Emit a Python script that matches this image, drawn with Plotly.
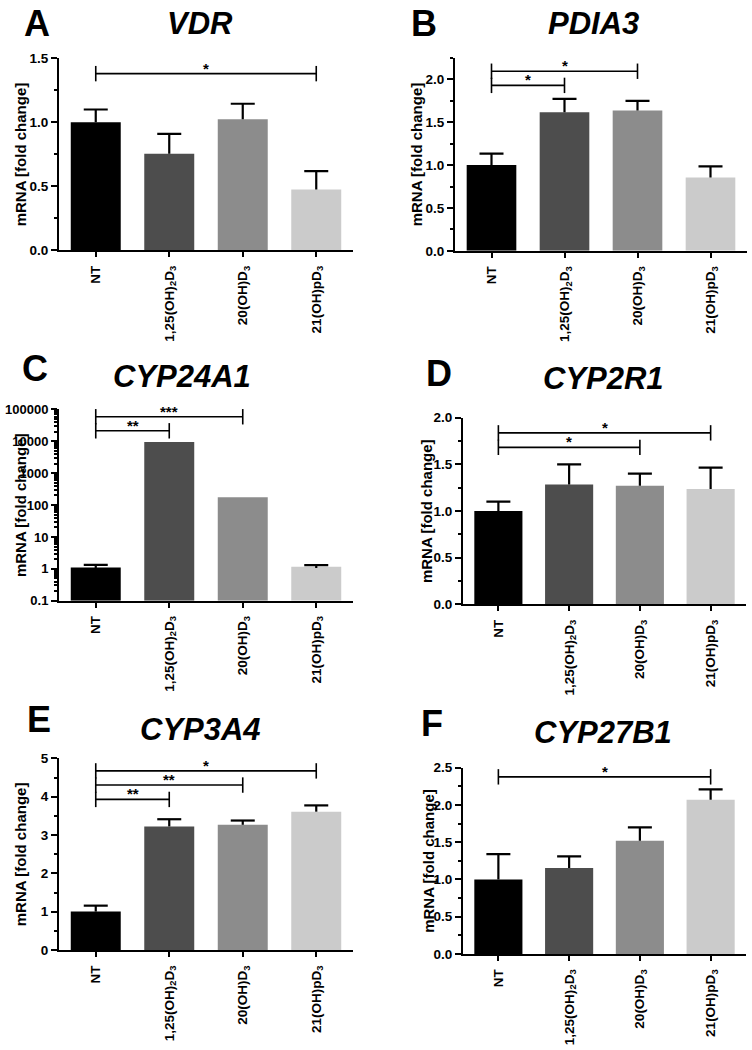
import math
import plotly.graph_objects as go

W, H = 752, 1050

categories = ["NT", "1,25(OH)<sub>2</sub>D<sub>3</sub>", "20(OH)D<sub>3</sub>", "21(OH)pD<sub>3</sub>"]
bar_colors = ["#000000", "#4d4d4d", "#8c8c8c", "#cbcbcb"]

genes = ["VDR", "PDIA3", "CYP24A1", "CYP2R1", "CYP3A4", "CYP27B1"]
letters = ["A", "B", "C", "D", "E", "F"]

vdr_mean = [1.00, 0.755, 1.025, 0.475]
vdr_sem = [0.10, 0.155, 0.12, 0.145]
pdia3_mean = [1.00, 1.615, 1.638, 0.854]
pdia3_sem = [0.134, 0.157, 0.111, 0.130]
cyp24a1_mean = [1.0, 9500, 176, 1.07]
cyp24a1_sem = [0.33, None, None, 0.23]
cyp2r1_mean = [1.0, 1.285, 1.271, 1.236]
cyp2r1_sem = [0.102, 0.215, 0.130, 0.229]
cyp3a4_mean = [1.003, 3.225, 3.268, 3.61]
cyp3a4_sem = [0.155, 0.188, 0.111, 0.164]
cyp27b1_mean = [1.0, 1.155, 1.521, 2.068]
cyp27b1_sem = [0.339, 0.155, 0.179, 0.141]

# significance brackets: (from index, to index, height, label)
vdr_sig = [(0, 3, 1.38, "*")]
pdia3_sig = [(0, 1, 1.93, "*"), (0, 2, 2.095, "*")]
cyp24a1_sig = [(0, 1, 21400, "**"), (0, 2, 59000, "***")]
cyp2r1_sig = [(0, 2, 1.683, "*"), (0, 3, 1.838, "*")]
cyp3a4_sig = [(0, 1, 3.93, "**"), (0, 2, 4.305, "**"), (0, 3, 4.674, "*")]
cyp27b1_sig = [(0, 3, 2.377, "*")]

means = [vdr_mean, pdia3_mean, cyp24a1_mean, cyp2r1_mean, cyp3a4_mean, cyp27b1_mean]
sems = [vdr_sem, pdia3_sem, cyp24a1_sem, cyp2r1_sem, cyp3a4_sem, cyp27b1_sem]
sigs = [vdr_sig, pdia3_sig, cyp24a1_sig, cyp2r1_sig, cyp3a4_sig, cyp27b1_sig]

# y axis settings per panel
y_ranges = [[0, 1.5], [0, 2.25], [-1, 5], [0, 2], [0, 5], [0, 2.5]]
y_dticks = [0.5, 0.5, None, 0.5, 1, 0.5]
y_minor = [0.25, 0.25, "D1", 0.25, 0.5, 0.25]
y_formats = [".1f", ".1f", None, ".1f", "d", ".1f"]
log_ticks = [0.1, 1, 10, 100, 1000, 10000, 100000]
log_ticktext = ["<b>0.1</b>", "<b>1</b>", "<b>10</b>", "<b>100</b>", "<b>1000</b>", "<b>10000</b>", "<b>100000</b>"]

# panel layout in pixels: (left, right, top, bottom)
boxes = [(59, 353, 52, 247), (455, 747, 51.7, 247.3),
         (59, 353, 408.3, 602.3), (463, 746, 416.7, 606),
         (59, 353, 762.3, 956.7), (463, 746, 771.7, 960.7)]
title_pos = [(200, 17), (593, 17), (182, 375), (603, 377), (200, 733), (603, 736)]
letter_pos = [(22, 17), (409, 17), (20, 367), (424, 372), (25, 723), (419, 727)]
ytitle_x = [20, 416, 20, 426, 20, 429]

FONT = "Liberation Sans, Arial, sans-serif"
fig = go.Figure()
layout = dict(width=W, height=H, margin=dict(l=0, r=0, t=0, b=0),
              plot_bgcolor="white", paper_bgcolor="white", showlegend=False,
              font=dict(family=FONT, color="black"))
annotations = []

x_idx = list(range(len(categories)))
for p in range(6):
    n = p + 1
    xa = "x" if n == 1 else f"x{n}"
    ya = "y" if n == 1 else f"y{n}"
    L, R, T, B = boxes[p]
    is_log = p == 2
    m = means[p]
    s = sems[p]

    fig.add_trace(go.Bar(x=x_idx, y=m, width=0.68, marker=dict(color=bar_colors, line=dict(width=0)),
                         xaxis=xa, yaxis=ya, base=(0.1 if is_log else None)))

    # error bars (upper only), built from data
    px_per_unit = (R - L) / 4.0
    cap = 12.0 / px_per_unit
    ex, ey = [], []
    for i, (v, e) in enumerate(zip(m, s)):
        if e is None:
            continue
        ex += [i, i, None, i - cap, i + cap, None]
        ey += [v, v + e, None, v + e, v + e, None]
    fig.add_trace(go.Scatter(x=ex, y=ey, mode="lines", line=dict(color="black", width=2.2),
                             xaxis=xa, yaxis=ya, hoverinfo="skip"))

    # significance brackets
    bx, by, tx, ty = [], [], [], []
    for (a, b, h, lab) in sigs[p]:
        bx += [a, b, None]
        by += [h, h, None]
        tx += [a, b]
        ty += [h, h]
        annotations.append(dict(x=(a + b) / 2, y=(math.log10(h) if is_log else h),
                                xref=xa, yref=ya, text=f"<b>{lab}</b>", showarrow=False,
                                xanchor="center", yanchor="bottom", yshift=-5,
                                font=dict(size=15, family=FONT, color="black")))
    fig.add_trace(go.Scatter(x=bx, y=by, mode="lines", line=dict(color="black", width=1.6),
                             xaxis=xa, yaxis=ya, hoverinfo="skip", cliponaxis=False))
    fig.add_trace(go.Scatter(x=tx, y=ty, mode="markers",
                             marker=dict(symbol="line-ns-open", size=11, color="black",
                                         line=dict(color="black", width=1.6)),
                             xaxis=xa, yaxis=ya, hoverinfo="skip", cliponaxis=False))

    xdom = [L / W, R / W]
    ydom = [1 - B / H, 1 - T / H]
    xkey = "xaxis" if n == 1 else f"xaxis{n}"
    ykey = "yaxis" if n == 1 else f"yaxis{n}"
    layout[xkey] = dict(domain=xdom, anchor=ya, range=[-0.5, 3.5], tickmode="array",
                        tickvals=x_idx, ticktext=[f"<b>{c}</b>" for c in categories], tickangle=-90,
                        ticks="outside", ticklen=5, tickwidth=2, tickcolor="black",
                        showline=True, linewidth=2, linecolor="black",
                        showgrid=False, zeroline=False, ticklabelstandoff=3,
                        tickfont=dict(size=13.5, family=FONT, color="black"))
    yax = dict(domain=ydom, anchor=xa, range=y_ranges[p],
               ticks="outside", ticklen=6, tickwidth=2, tickcolor="black",
               showline=True, linewidth=2, linecolor="black",
               showgrid=False, zeroline=False,
               tickfont=dict(size=13.5, family=FONT, color="black"),
               minor=dict(ticks="outside", ticklen=3, tickwidth=1.5, tickcolor="black",
                          dtick=y_minor[p], showgrid=False))
    if is_log:
        yax.update(type="log", tickmode="array", tickvals=log_ticks, ticktext=log_ticktext,
                   tickfont=dict(size=13, family=FONT, color="black"))
    else:
        yax.update(dtick=y_dticks[p], tick0=0, tickformat=y_formats[p],
                   tickprefix="<b>", ticksuffix="</b>")
    layout[ykey] = yax

    tpx, tpy = title_pos[p]
    annotations.append(dict(x=tpx / W, y=1 - tpy / H, xref="paper", yref="paper",
                            text=f"<b><i>{genes[p]}</i></b>", showarrow=False,
                            xanchor="center", yanchor="middle",
                            font=dict(size=31, family=FONT, color="black")))
    lpx, lpy = letter_pos[p]
    annotations.append(dict(x=lpx / W, y=1 - lpy / H, xref="paper", yref="paper",
                            text=f"<b>{letters[p]}</b>", showarrow=False,
                            xanchor="left", yanchor="middle",
                            font=dict(size=36, family=FONT, color="black")))
    annotations.append(dict(x=ytitle_x[p] / W, y=1 - (T + B) / 2 / H, xref="paper", yref="paper",
                            text="<b>mRNA [fold change]</b>", showarrow=False, textangle=-90,
                            xanchor="center", yanchor="middle",
                            font=dict(size=15, family=FONT, color="black")))

layout["annotations"] = annotations
fig.update_layout(**layout)
fig.write_html("out.html", config={"displayModeBar": False},
               post_script="document.body.style.margin='0px';document.body.style.overflow='hidden';")
